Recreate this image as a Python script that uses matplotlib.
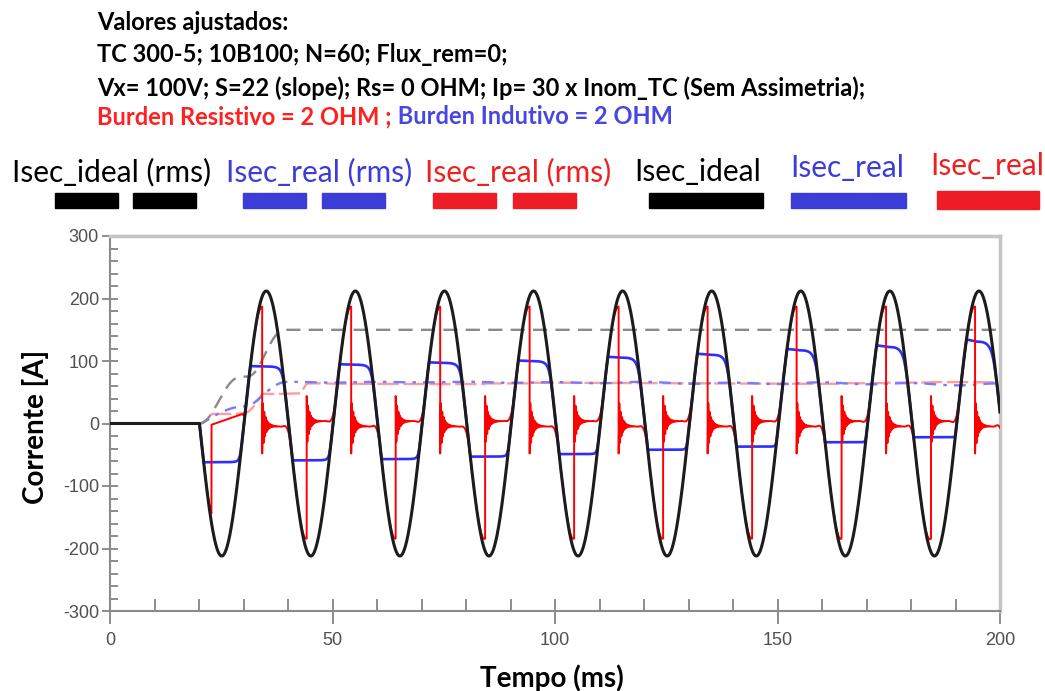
import numpy as np
import matplotlib
matplotlib.use("Agg")
import matplotlib.pyplot as plt
from matplotlib.patches import Rectangle
from matplotlib.ticker import MultipleLocator

# ---------------- values ----------------
fault_start_ms = 20.1          # fault inception
period_ms = 20.02              # one cycle (50 Hz)
ideal_peak_A = 212.0           # 30 x 5 A x sqrt(2)
t_end_ms = 200.0

# inductive burden (blue): saturation level of each half cycle (first half is negative)
blue_levels_A = [-62, 92, -59, 95, -57, 98, -53, 101, -49, 107,
                 -42, 112, -37, 120, -30, 126, -22, 136]

# resistive burden (red): collapse of the secondary current in each half cycle
red_collapse_ms = [22.8, 34.2, 44.2, 54.2, 64.2, 74.2, 84.3, 94.3, 104.3,
                   114.3, 124.3, 134.3, 144.3, 154.3, 164.4, 174.4, 184.5, 194.4]
red_before_A = [-144, 187, -184, 187, -184, 187, -184, 187, -184,
                187, -184, 187, -184, 187, -184, 187, -184, 187]
red_after_A = [-2, -48, 44, -48, 44, -48, 44, -48, 44,
               -48, 44, -48, 44, -48, 44, -48, 44, -48]
red_sat_start_A = [-2, -3, 3, -3, 3, -3, 3, -3, 3,
                   -3, 3, -3, 3, -3, 3, -3, 3, -3]
red_sat_end_A = [15, -5, 4, -5, 4, -5, 4, -5, 4,
                 -5, 4, -5, 4, -5, 4, -5, 4, -5]
red_bend_ms = [29.6, 38.4, 48.4, 58.4, 68.4, 78.5, 88.5, 98.5, 108.5,
               118.5, 128.5, 138.5, 148.5, 158.5, 168.5, 178.5, 188.5, 198.5]
red_merge_ms = [30.5, 40.8, 50.8, 60.8, 70.8, 80.9, 90.9, 100.9, 110.9,
                120.9, 130.9, 140.9, 150.9, 160.9, 170.9, 180.9, 190.9, 200.9]
red_ringing = [0, 1, 1, 1, 1, 1, 1, 1, 1, 1, 1, 1, 1, 1, 1, 1, 1, 1]

header_lines = ["Valores ajustados:",
                "TC 300-5; 10B100; N=60; Flux_rem=0;",
                "Vx= 100V; S=22 (slope); Rs= 0 OHM; Ip= 30 x Inom_TC (Sem Assimetria);"]
burden_red_text = "Burden Resistivo = 2 OHM ;"
burden_blue_text = " Burden Indutivo = 2 OHM"
legend_labels = ["Isec_ideal (rms)", "Isec_real (rms)", "Isec_real (rms)",
                 "Isec_ideal", "Isec_real", "Isec_real"]
x_ticks = [0, 50, 100, 150, 200]
y_ticks = [-300, -200, -100, 0, 100, 200, 300]

# ---------------- waveforms ----------------
dt = 0.005
t = np.arange(0.0, t_end_ms + dt / 2, dt)
w = 2 * np.pi / period_ms


def ideal_at(tt):
    tt = np.asarray(tt, dtype=float)
    return np.where(tt >= fault_start_ms,
                    -ideal_peak_A * np.sin(w * (tt - fault_start_ms)), 0.0)


def ideal_slope(tt):
    return -ideal_peak_A * w * np.cos(w * (tt - fault_start_ms))


ideal = ideal_at(t)

# blue: clipped at the half-cycle level, rounded when leaving saturation
blue = ideal.copy()
half = period_ms / 2
p_soft = 4.0
for k, lev in enumerate(blue_levels_A):
    t0 = fault_start_ms + k * half
    t1 = t0 + half
    peak_t = t0 + half / 2
    m = (t >= t0) & (t < t1)
    L = abs(lev)
    a = np.abs(ideal[m])
    tm = t[m]
    a_eff = np.where(tm < peak_t, 2 * ideal_peak_A - a, a)
    soft = (L ** -p_soft + np.maximum(a_eff, 1e-9) ** -p_soft) ** (-1 / p_soft)
    blue[m] = np.sign(lev) * np.minimum(a, soft)

# red: follows ideal, collapses near the peak, rings, then rejoins the ideal
red = np.zeros_like(t)
prev = fault_start_ms
for k in range(len(red_collapse_ms)):
    tc = red_collapse_ms[k]
    tb = red_bend_ms[k]
    tmg = red_merge_ms[k]
    m = (t >= prev) & (t < tc)
    s = (t[m] - prev) / (tc - prev)
    delta = 1 - red_before_A[k] / float(ideal_at(tc))
    red[m] = ideal[m] * (1 - delta * s ** 4)
    m = (t >= tc) & (t < tb)
    tau = t[m] - tc
    frac = tau / (tb - tc)
    base = red_sat_start_A[k] + (red_sat_end_A[k] - red_sat_start_A[k]) * frac
    jump = red_after_A[k] - red_sat_start_A[k]
    if red_ringing[k]:
        red[m] = base + jump * np.exp(-tau / 0.65) * np.cos(2 * np.pi * 3.2 * tau)
    else:
        red[m] = base + jump * np.exp(-tau / 0.02)
    m = (t >= tb) & (t < tmg)
    d = tmg - tb
    s = (t[m] - tb) / d
    p0 = red_sat_end_A[k]
    m0 = (red_sat_end_A[k] - red_sat_start_A[k]) / (tb - tc) * d
    p1 = float(ideal_at(tmg))
    m1 = ideal_slope(tmg) * d
    h00 = 2 * s**3 - 3 * s**2 + 1
    h10 = s**3 - 2 * s**2 + s
    h01 = -2 * s**3 + 3 * s**2
    h11 = s**3 - s**2
    red[m] = h00 * p0 + h10 * m0 + h01 * p1 + h11 * m1
    prev = tmg


def phasor_rms(x):
    n = int(round(period_ms / dt))
    z = x * np.exp(-1j * w * t) * dt
    c = np.cumsum(z)
    lag = np.concatenate([np.zeros(n, dtype=complex), c[:-n]])
    X = 2.0 / period_ms * (c - lag)
    return np.abs(X) / np.sqrt(2)


ideal_rms = phasor_rms(ideal)
blue_rms = phasor_rms(blue)
red_rms = phasor_rms(red)

# ---------------- figure ----------------
W, H = 1045, 691
fig = plt.figure(figsize=(W / 100, H / 100), dpi=100)
fig.patch.set_facecolor("white")


def fx(px):
    return px / W


def fy(py):
    return 1 - py / H


ax = fig.add_axes([fx(110), fy(611), fx(1000) - fx(110), fy(236) - fy(611)])

ax.plot(t, red_rms, color="#ff9c9c", lw=1.7, dashes=(9, 2), zorder=2)
ax.plot(t, blue_rms, color="#7a7aff", lw=1.7, dashes=(5, 3, 1.5, 3), zorder=2.1)
ax.plot(t, ideal_rms, color="#8a8a8a", lw=1.7, dashes=(6, 3.5), zorder=2.2)
ax.plot(t, blue, color="#2e2eff", lw=1.9, zorder=3)
ax.plot(t, red, color="#ff0000", lw=1.4, zorder=4)
ax.plot(t, ideal, color="#1c1c1c", lw=2.2, zorder=5)

ax.set_xlim(0, 200)
ax.set_ylim(-300, 300)
ax.set_xticks(x_ticks)
ax.set_yticks(y_ticks)
ax.xaxis.set_minor_locator(MultipleLocator(10))
ax.yaxis.set_minor_locator(MultipleLocator(20))
tick_font = dict(family="Liberation Sans", size=13, color="#505050")
ax.set_xticklabels([str(v) for v in x_ticks], **tick_font)
ax.set_yticklabels([str(v) for v in y_ticks], **tick_font)
ax.tick_params(axis="x", which="major", direction="inout", length=18, width=1.2, color="#7a7a7a", pad=6)
ax.tick_params(axis="x", which="minor", direction="in", length=9, width=1.2, color="#7a7a7a")
ax.tick_params(axis="y", which="major", direction="inout", length=12, width=1.2, color="#7a7a7a", pad=2)
ax.tick_params(axis="y", which="minor", direction="in", length=6, width=1.2, color="#7a7a7a")
for side in ["left", "bottom"]:
    ax.spines[side].set_color("#8a8a8a")
    ax.spines[side].set_linewidth(1.5)
for side in ["top", "right"]:
    ax.spines[side].set_color("#c4c4c4")
    ax.spines[side].set_linewidth(2.5)

lab_font = dict(family="Lato", weight="bold", size=20, color="black")
fig.text(fx(552), fy(678), "Tempo (ms)", ha="center", va="center", **lab_font)
fig.text(fx(36), fy(427), "Corrente [A]", ha="center", va="center", rotation=90, **lab_font)

# header text
hdr_font = dict(family="Lato", weight="bold", size=17, color="black", va="center", ha="left")
for i, line in enumerate(header_lines):
    fig.text(fx(97), fy(22 + 33 * i), line, **hdr_font)
tr = fig.text(fx(97), fy(117), burden_red_text, **{**hdr_font, "color": "#ff2020"})
fig.canvas.draw()
bb = tr.get_window_extent()
fig.text(bb.x1 / W, fy(117), burden_blue_text, **{**hdr_font, "color": "#4848e0"})

# legend
leg_font = dict(family="Lato", size=21.5, va="center", ha="left")
leg_colors = ["black", "#3c3cd8", "#ee2020", "black", "#3c3cd8", "#ee2020"]
leg_x = [12, 226, 425, 634, 790, 930]
leg_y = [172, 172, 172, 172, 168, 166]
for lab, c, x, y in zip(legend_labels, leg_colors, leg_x, leg_y):
    fig.text(fx(x), fy(y), lab, color=c, **leg_font)

rects = [(55, 118, "black"), (133, 196, "black"), (243, 306, "#3c3cd8"), (322, 385, "#3c3cd8"),
         (433, 496, "#ee1c24"), (513, 576, "#ee1c24"), (649, 763, "black"),
         (791, 906, "#3c3cd8"), (937, 1039, "#ee1c24")]
for x0, x1, c in rects:
    y0, y1 = (191, 209) if x0 == 937 else (193, 208)
    fig.patches.append(Rectangle((fx(x0), fy(y1)), fx(x1) - fx(x0), fy(y0) - fy(y1),
                                 transform=fig.transFigure, color=c, zorder=1))

fig.savefig("out.png", dpi=100, facecolor="white")
